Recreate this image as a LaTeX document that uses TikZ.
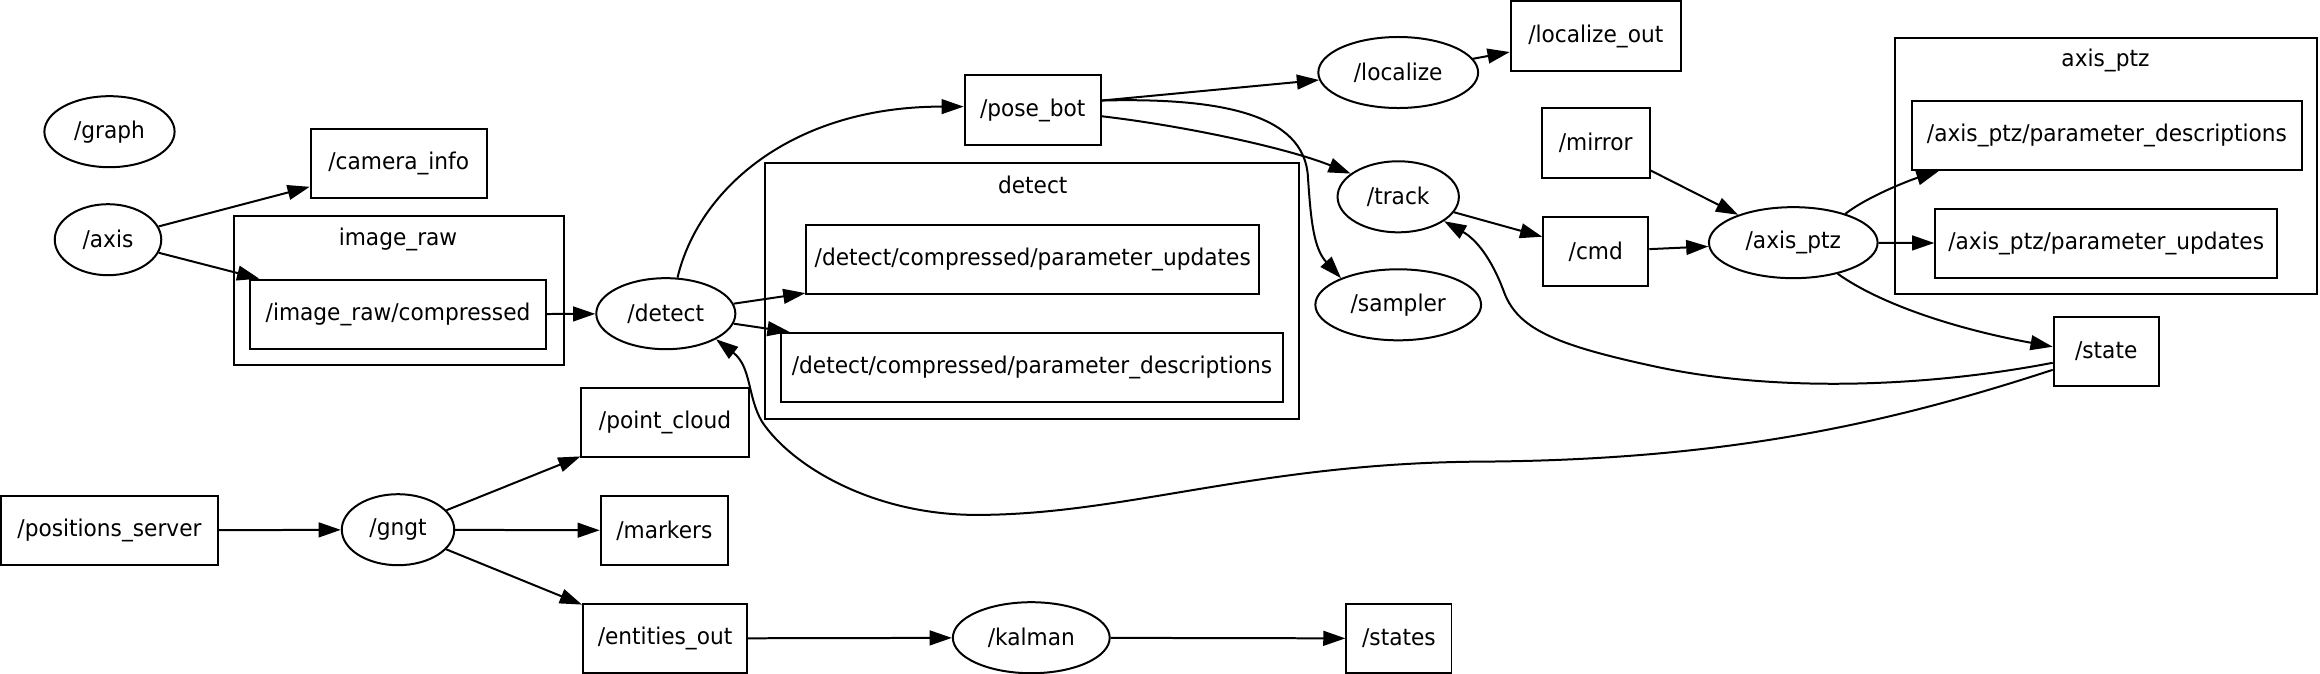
\documentclass[tikz,border=0pt]{standalone}
\usepackage{fontspec}
\setmainfont{DejaVu Sans}[FakeStretch=0.94]
\usetikzlibrary{shapes.geometric,arrows.meta}
\begin{document}
\begin{tikzpicture}[x=1pt,y=-1pt,
  every node/.style={font=\fontsize{15.6}{18}\selectfont, inner sep=0pt},
  topic/.style={draw, line width=1.35pt, rectangle, minimum height=47pt},
  nd/.style={draw, line width=1.35pt, ellipse, minimum height=48pt},
  clus/.style={draw, line width=1.35pt},
  edge/.style={line width=1.35pt, -{Triangle[length=15pt,width=10pt]}}
]
\useasboundingbox (0,0) rectangle (1568,455.5);
% clusters
\draw[clus] (158,146) rectangle (381,247);
\node (lbimg) at (269,162) {image\_raw};
\draw[clus] (517,110) rectangle (878,283.5);
\node (lbdet) at (698,125) {detect};
\draw[clus] (1281,26) rectangle (1566,199);
\node (lbptz) at (1423,41) {axis\_ptz};
% nodes
\node[nd, minimum width=88pt] (graph) at (74,89) {/graph};
\node[nd, minimum width=72pt] (axis) at (73,162) {/axis};
\node[topic, minimum width=119pt] (caminfo) at (269.5,110.5) {/camera\_info};
\node[topic, minimum width=200pt] (imgc) at (269,212.5) {/image\_raw/compressed};
\node[nd, minimum width=94pt] (detect) at (450,212) {/detect};
\node[topic, minimum width=92pt] (posebot) at (698,74.5) {/pose\_bot};
\node[topic, minimum width=306pt] (pupd) at (698,175.5) {/detect/compressed/parameter\_updates};
\node[topic, minimum width=339pt] (pdesc) at (697.5,248.5) {/detect/compressed/parameter\_descriptions};
\node[nd, minimum width=108pt] (localize) at (945,49) {/localize};
\node[topic, minimum width=115pt] (locout) at (1078.5,24.5) {/localize\_out};
\node[nd, minimum width=82pt] (track) at (945,133) {/track};
\node[nd, minimum width=112pt] (sampler) at (945,206) {/sampler};
\node[topic, minimum width=73pt] (mirror) at (1078.5,96.5) {/mirror};
\node[topic, minimum width=71pt] (cmd) at (1078.5,170) {/cmd};
\node[nd, minimum width=114pt] (axisptz) at (1212,164) {/axis\_ptz};
\node[topic, minimum width=264pt] (apdesc) at (1424,91.5) {/axis\_ptz/parameter\_descriptions};
\node[topic, minimum width=231pt] (apupd) at (1423.5,164.5) {/axis\_ptz/parameter\_updates};
\node[topic, minimum width=71pt] (state) at (1423.5,237.5) {/state};
\node[topic, minimum width=113pt] (pcloud) at (449.5,285.5) {/point\_cloud};
\node[topic, minimum width=146pt] (posserv) at (74,358.5) {/positions\_server};
\node[nd, minimum width=76pt] (gngt) at (269,358) {/gngt};
\node[topic, minimum width=86pt] (markers) at (449,358.5) {/markers};
\node[topic, minimum width=111pt] (entout) at (449.5,431.5) {/entities\_out};
\node[nd, minimum width=106pt] (kalman) at (697,431) {/kalman};
\node[topic, minimum width=71pt] (states) at (945.5,431.5) {/states};
% straight edges
\draw[edge] (axis) -- (caminfo);
\draw[edge] (axis) -- (imgc);
\draw[edge] (imgc) -- (detect);
\draw[edge] (detect) -- (pupd);
\draw[edge] (detect) -- (pdesc);
\draw[edge] (posebot.8) -- (localize);
\draw[edge] (localize) -- (locout);
\draw[edge] (track) -- (cmd);
\draw[edge] (mirror) -- (axisptz);
\draw[edge] (cmd) -- (axisptz);
\draw[edge] (axisptz) -- (apupd);
\draw[edge] (posserv) -- (gngt);
\draw[edge] (gngt) -- (pcloud);
\draw[edge] (gngt) -- (markers);
\draw[edge] (gngt) -- (entout);
\draw[edge] (entout) -- (kalman);
\draw[edge] (kalman) -- (states);
% curved edges
\draw[edge] (detect.72) .. controls (472,128) and (535,72) .. (posebot.177);
\draw[edge] (posebot.-5) .. controls (800,85) and (870,100) .. (track.154);
\draw[edge] (posebot.8) .. controls (822,66) and (882,76) .. (884,120)
  .. controls (886,150) and (888,168) .. (sampler.155);
\draw[edge] (state.192) .. controls (1300,262) and (1200,265) .. (1120,248)
  .. controls (1050,233) and (1025,222) .. (1016,196)
  .. controls (1008,175) and (998,162) .. (track.-28);
\draw[edge] (state.199) .. controls (1280,285) and (1170,311) .. (1000,312)
  .. controls (850,313) and (760,348) .. (660,348)
  .. controls (590,348) and (535,315) .. (515,285)
  .. controls (505,268) and (508,248) .. (detect.-27);
\draw[edge] (axisptz.-35) .. controls (1270,205) and (1320,222) .. (state.175);
\draw[edge] (axisptz.29) .. controls (1262,133) and (1290,122) .. (apdesc.-168);
\end{tikzpicture}
\end{document}
